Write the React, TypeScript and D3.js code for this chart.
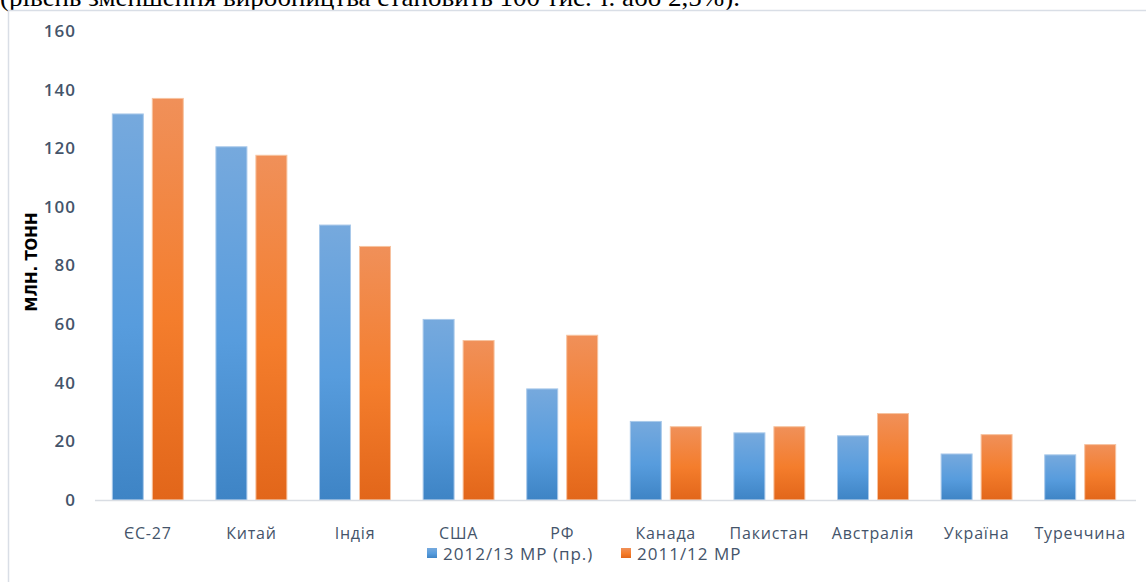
import React from 'react';
import * as d3 from 'd3';

const categories = ['ЄС-27', 'Китай', 'Індія', 'США', 'РФ', 'Канада', 'Пакистан', 'Австралія', 'Україна', 'Туреччина'];
const series = ['2012/13 МР (пр.)', '2011/12 МР'];
const values2012 = [131.7, 120.5, 93.8, 61.6, 37.9, 26.8, 22.9, 21.9, 15.7, 15.4];
const values2011 = [137.0, 117.6, 86.5, 54.4, 56.2, 25.0, 25.0, 29.5, 22.3, 18.9];
const yTicks = [0, 20, 40, 60, 80, 100, 120, 140, 160];

const W = 1146;
const H = 582;
const margin = { top: 31, bottom: 82, left: 96, right: 14 };

const App: React.FC = () => {
  const x0 = d3.scaleBand<string>()
    .domain(categories)
    .range([margin.left, W - margin.right])
    .paddingInner(0.315)
    .paddingOuter(0.1575);
  const x1 = d3.scaleBand<string>()
    .domain(series)
    .range([0, x0.bandwidth()])
    .paddingInner(0.225);
  const y = d3.scaleLinear().domain([0, 160]).range([H - margin.bottom, margin.top]);

  const data = [values2012, values2011];
  const grads = ['gBlue', 'gOrange'];
  const strokes = ['#a9c9ea', '#f7c3a0'];
  const axisColor = '#44546a';
  const font = '"Open Sans", "DejaVu Sans", sans-serif';

  return (
    <div style={{ position: 'fixed', left: 0, top: 0, width: W, height: H, background: '#fff' }}>
      <svg width={W} height={H} style={{ display: 'block' }}>
        <defs>
          <linearGradient id="gBlue" x1="0" y1="0" x2="0" y2="1">
            <stop offset="0%" stopColor="#76a9dd" />
            <stop offset="55%" stopColor="#579cdd" />
            <stop offset="100%" stopColor="#3e84c5" />
          </linearGradient>
          <linearGradient id="gOrange" x1="0" y1="0" x2="0" y2="1">
            <stop offset="0%" stopColor="#f09059" />
            <stop offset="55%" stopColor="#f47d2c" />
            <stop offset="100%" stopColor="#e2661a" />
          </linearGradient>
        </defs>

        {/* text of the page above the chart, cut off */}
        <text x={0} y={6} fontFamily='"Liberation Serif", serif' fontSize={26} fill="#000"
          textLength={740} lengthAdjust="spacingAndGlyphs">
          (рівень зменшення виробництва становить 100 тис. т. або 2,5%).
        </text>

        {/* chart frame */}
        <rect x={8.5} y={10.5} width={W + 20} height={H + 20} fill="#fff" stroke="#d9dee6" strokeWidth={1.5} />

        {/* y ticks */}
        {yTicks.map(t => (
          <text key={t} x={76} y={y(t)} dy="0.35em" textAnchor="end" letterSpacing={1}
            fontFamily={font} fontSize={17} fontWeight={600} fill={axisColor}>{t}</text>
        ))}

        <text transform={`translate(37,262) rotate(-90)`} textAnchor="middle"
          fontFamily='"DejaVu Sans", sans-serif' fontSize={15} fontWeight={700} fill="#000">МЛН. ТОНН</text>

        {/* bars */}
        {categories.map((c, i) => (
          <g key={c} transform={`translate(${x0(c)},0)`}>
            {series.map((s, j) => (
              <rect key={s} x={x1(s)} y={y(data[j][i])} width={x1.bandwidth()}
                height={y(0) - y(data[j][i])} fill={`url(#${grads[j]})`}
                stroke={strokes[j]} strokeWidth={1} />
            ))}
          </g>
        ))}

        {/* baseline */}
        <line x1={margin.left - 1} x2={W - margin.right + 4} y1={y(0) + 0.5} y2={y(0) + 0.5} stroke="#d9dde3" strokeWidth={1.5} />

        {/* category labels */}
        {categories.map(c => (
          <text key={c} x={(x0(c) as number) + x0.bandwidth() / 2} y={539} textAnchor="middle" letterSpacing={0.8}
            fontFamily={font} fontSize={16} fill={axisColor}>{c}</text>
        ))}

        {/* legend */}
        {series.map((s, j) => {
          const lx = j === 0 ? 427 : 621;
          return (
            <g key={s}>
              <rect x={lx} y={548} width={10} height={10} fill={`url(#${grads[j]})`} />
              <text x={lx + 16} y={554} dy="0.35em" letterSpacing={1}
                fontFamily={font} fontSize={17} fill={axisColor}>{s}</text>
            </g>
          );
        })}
      </svg>
    </div>
  );
};

export default App;
